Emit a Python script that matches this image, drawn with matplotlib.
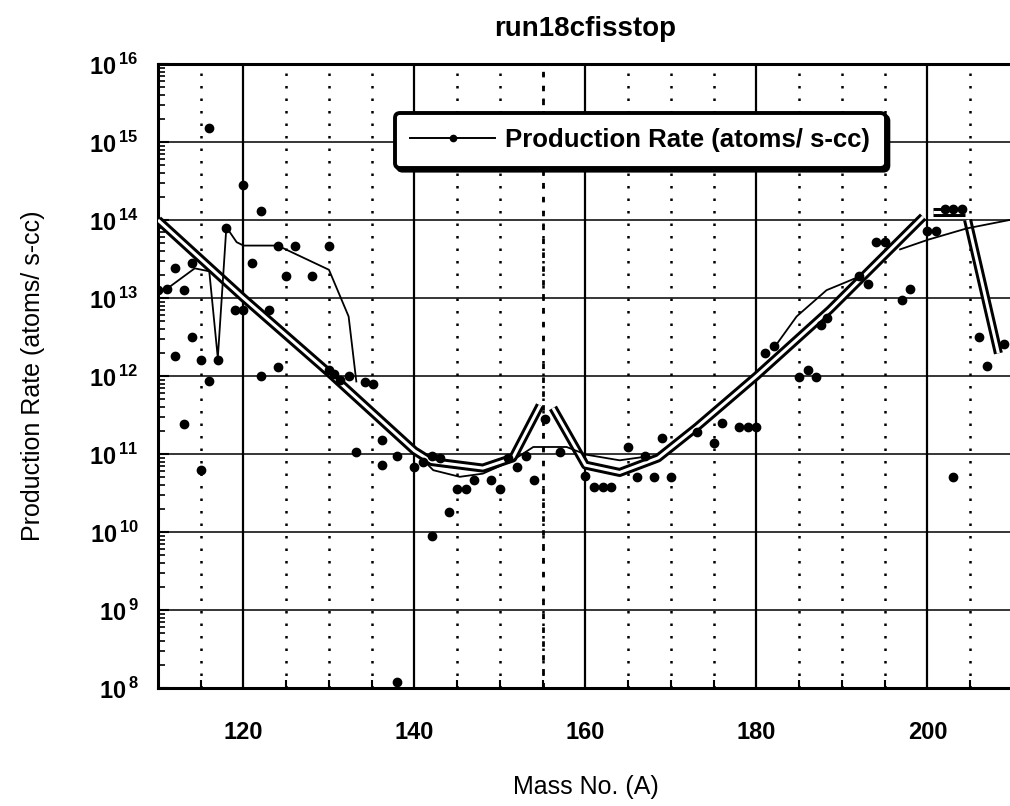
import math
import matplotlib
matplotlib.use('Agg')
import matplotlib.pyplot as plt
from matplotlib.lines import Line2D
from matplotlib.ticker import FixedLocator, LogLocator, NullFormatter, FuncFormatter

plt.rcParams['font.family'] = ['Liberation Sans', 'DejaVu Sans']
plt.rcParams['mathtext.fontset'] = 'custom'
plt.rcParams['mathtext.rm'] = 'Liberation Sans'
plt.rcParams['mathtext.bf'] = 'Liberation Sans:bold'

# measured points (mass number, production rate)
mass = [110, 111, 112, 112, 113, 113, 114, 114, 115, 115, 116, 116, 117, 118, 119,
        120, 120, 121, 122, 122, 123, 124, 124, 125, 126, 128, 130, 130, 130.6, 131.3,
        132.3, 133.2, 134.2, 135.2, 136.2, 136.2, 138, 138, 140, 141, 142, 142, 143,
        144, 145, 146, 147, 149, 150, 151, 152, 153, 154, 155.3, 157, 160, 161, 162,
        163, 165, 166, 167, 168, 169, 170, 173, 175, 176, 178, 179, 180, 181, 182,
        185, 186, 187, 187.6, 188.3, 192, 193, 194, 195, 197, 198, 200, 201, 202,
        203, 203, 204, 206, 207, 209]
rate = [1.25e13, 1.3e13, 2.4e13, 1.8e12, 1.25e13, 2.4e11, 2.8e13, 3.2e12, 1.6e12, 6.2e10,
        1.5e15, 8.7e11, 1.6e12, 8e13, 7e12, 2.8e14, 7e12, 2.8e13, 1.3e14, 1e12, 7e12,
        4.7e13, 1.3e12, 1.9e13, 4.7e13, 1.9e13, 4.7e13, 1.2e12, 1.05e12, 9e11, 1e12,
        1.07e11, 8.3e11, 8e11, 1.5e11, 7.2e10, 9.4e10, 1.2e8, 6.9e10, 8e10, 9.4e10, 9e9,
        9e10, 1.8e10, 3.6e10, 3.6e10, 4.6e10, 4.6e10, 3.6e10, 8.8e10, 6.8e10, 9.4e10,
        4.6e10, 2.8e11, 1.05e11, 5.3e10, 3.8e10, 3.8e10, 3.8e10, 1.24e11, 5e10, 9.4e10,
        5e10, 1.6e11, 5e10, 1.9e11, 1.4e11, 2.5e11, 2.2e11, 2.2e11, 2.2e11, 2.0e12,
        2.4e12, 9.8e11, 1.18e12, 9.6e11, 4.5e12, 5.5e12, 1.9e13, 1.5e13, 5.2e13, 5.2e13,
        9.4e12, 1.3e13, 7.2e13, 7.2e13, 1.4e14, 1.4e14, 5e10, 1.4e14, 3.2e12, 1.35e12,
        2.6e12]

# thick (double) fitted curve, in pieces
fit_a1 = [110, 120, 130, 140, 142, 148, 151.5, 154.7]
fit_r1 = [1e14, 1e13, 1.1e12, 1.1e11, 8e10, 6.6e10, 8.9e10, 4.2e11]
fit_a2 = [156.2, 160, 164, 168.5, 173, 180, 188.6, 199.5]
fit_r2 = [3.9e11, 7.2e10, 5.8e10, 8.9e10, 2.2e11, 1e12, 7.1e12, 1.1e14]
fit_a3 = [200.6, 204.4]
fit_r3 = [1.26e14, 1.26e14]
fit_a4 = [204.7, 208.3]
fit_r4 = [1e14, 1.95e12]

# thin curves
thin_a1 = [110, 111, 114.3, 116, 117, 118, 119.2, 120, 124, 130, 132.3, 133.2]
thin_r1 = [1.25e13, 1.3e13, 2.4e13, 2.2e13, 1.7e12, 8.1e13, 5.2e13, 4.7e13, 4.7e13,
           2.3e13, 5.8e12, 8.5e11]
thin_a2 = [141.2, 142.2, 145.3, 148, 151.5, 153.9, 157.8, 160.1, 164, 167.2]
thin_r2 = [8e10, 6.2e10, 5.1e10, 5.6e10, 8.3e10, 1.23e11, 1.23e11, 9.8e10, 8.3e10, 9.3e10]
thin_a3 = [182.3, 184.7, 188.2, 190.5, 192.1]
thin_r3 = [2.5e12, 5.8e12, 1.26e13, 1.6e13, 1.9e13]
thin_a4 = [196.8, 200.1, 204.6, 209.6, 210]
thin_r4 = [4.2e13, 5.6e13, 7.8e13, 1e14, 1.02e14]

fig = plt.figure(figsize=(10.1, 8.06), dpi=100)
ax = fig.add_axes([0.1564, 0.1464, 0.8465, 0.7742])
ax.set_yscale('log')
ax.set_xlim(110, 210)
ax.set_ylim(1e8, 1e16)

# grid
ax.xaxis.set_major_locator(FixedLocator([120, 140, 160, 180, 200]))
ax.xaxis.set_minor_locator(FixedLocator(list(range(115, 210, 5))))
ax.yaxis.set_major_locator(LogLocator(base=10, numticks=20))
ax.yaxis.set_minor_locator(LogLocator(base=10, subs=range(2, 10), numticks=100))
ax.yaxis.set_minor_formatter(NullFormatter())
ax.yaxis.set_major_formatter(FuncFormatter(
    lambda v, p: r'$\mathbf{10}^{\,\mathbf{%d}}$' % round(math.log10(v))))

ax.grid(which='major', axis='x', color='black', lw=1.6, ls='-', zorder=1)
ax.grid(which='minor', axis='x', color='black', lw=1.8, ls=(0, (1, 4)), zorder=1)
ax.grid(which='major', axis='y', color='black', lw=1.1, ls='-', zorder=1)
ax.axvline(155, color='black', lw=2.0, ls=(0, (2, 3)), zorder=1)

ax.tick_params(which='both', direction='in', top=False, right=False)
ax.tick_params(which='major', axis='x', length=0, pad=24, labelsize=17)
ax.tick_params(which='minor', axis='x', length=6, width=1.5)
ax.tick_params(which='major', axis='y', length=8, width=1.5, pad=14, labelsize=17)
ax.tick_params(which='minor', axis='y', length=5, width=1.2)
for lab in ax.get_xticklabels():
    lab.set_fontweight('bold')
for s in ax.spines.values():
    s.set_linewidth(2.2)

# thick double fit line
for a, r in [(fit_a1, fit_r1), (fit_a2, fit_r2), (fit_a3, fit_r3), (fit_a4, fit_r4)]:
    ax.plot(a, r, color='black', lw=6.5, solid_capstyle='butt', zorder=3)
    ax.plot(a, r, color='white', lw=2.2, solid_capstyle='butt', zorder=4)

# thin lines
for a, r in [(thin_a1, thin_r1), (thin_a2, thin_r2), (thin_a3, thin_r3), (thin_a4, thin_r4)]:
    ax.plot(a, r, color='black', lw=1.3, zorder=5)

# points
ax.plot(mass, rate, ls='none', marker='o', ms=6, color='black', zorder=6)

handle = Line2D([], [], color='black', lw=1.4, marker='o', ms=4.5)
leg = ax.legend([handle], ['Production Rate (atoms/ s-cc)'], loc='upper left',
                bbox_to_anchor=(0.262, 0.942), prop={'weight': 'bold', 'size': 18.5},
                handlelength=3.3, handletextpad=0.4, borderpad=0.6, fancybox=True,
                shadow={'color': 'black', 'alpha': 1}, framealpha=1, edgecolor='black')
leg.get_frame().set_linewidth(2.8)
leg.set_zorder(10)

ax.set_title('run18cfisstop', fontsize=20, fontweight='bold', pad=20)
ax.set_xlabel('Mass No. (A)', fontsize=18, labelpad=22)
ax.set_ylabel('Production Rate (atoms/ s-cc)', fontsize=18, labelpad=32)

fig.savefig('out.png', dpi=100)
